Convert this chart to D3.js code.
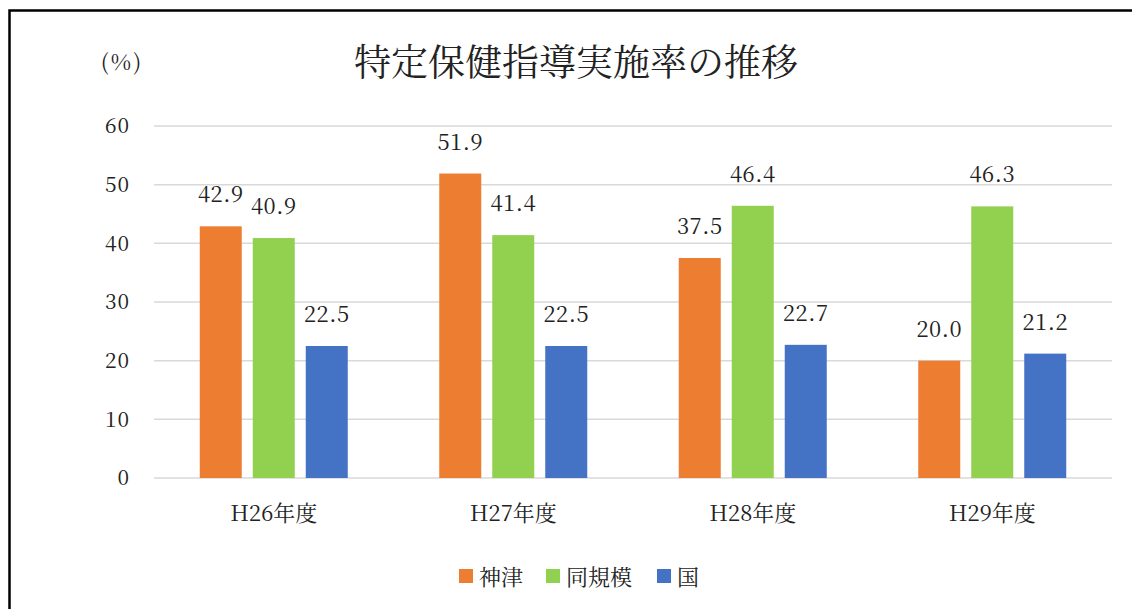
<!DOCTYPE html>
<html>
<head>
<meta charset="utf-8">
<script src="https://cdn.jsdelivr.net/npm/d3@7"></script>
</head>
<body style="margin:0; background:#fff;">
<div class="chart"></div>
<script>
const years = ['H26年度', 'H27年度', 'H28年度', 'H29年度'];
const seriesNames = ['神津', '同規模', '国'];
const kozu = [42.9, 51.9, 37.5, 20.0];
const doukibo = [40.9, 41.4, 46.4, 46.3];
const kuni = [22.5, 22.5, 22.7, 21.2];
const yTicks = [0, 10, 20, 30, 40, 50, 60];
const colors = ['#ED7D31', '#92D050', '#4472C4'];

const seriesValues = [kozu, doukibo, kuni];
const FONT = 'Noto Serif CJK JP';
const width = 1132, height = 609;
const margin = {top: 126, right: 20, bottom: 131, left: 154};
const plotW = 1112 - margin.left;
const plotH = 478 - margin.top;

const svg = d3.select('.chart')
    .append('svg')
    .attr('width', width)
    .attr('height', height);

// outer frame
svg.append('rect')
    .attr('x', 9.5).attr('y', 10.5)
    .attr('width', 1200).attr('height', 700)
    .attr('fill', 'none')
    .attr('stroke', '#000')
    .attr('stroke-width', 2.5);

const g = svg.append('g')
    .attr('transform', `translate(${margin.left},${margin.top})`);

const xScale = d3.scaleBand()
    .domain(years)
    .range([0, plotW]);

const xInner = d3.scaleBand()
    .domain(seriesNames)
    .range([0, 148])
    .paddingInner(11 / 53);

const yScale = d3.scaleLinear()
    .domain([0, 60])
    .range([plotH, 0]);

// gridlines
g.selectAll('.grid')
    .data(yTicks)
    .enter()
    .append('line')
    .attr('class', 'grid')
    .attr('x1', 0)
    .attr('x2', plotW)
    .attr('y1', d => yScale(d))
    .attr('y2', d => yScale(d))
    .attr('stroke', '#D9D9D9')
    .attr('stroke-width', 1.5);

const yAxis = d3.axisLeft(yScale)
    .tickValues(yTicks)
    .tickSize(0)
    .tickPadding(24);

g.append('g')
    .attr('class', 'axis y-axis')
    .call(yAxis)
    .call(a => a.select('.domain').remove())
    .selectAll('text')
    .attr('font-family', FONT)
    .style('font-family', FONT)
    .attr('font-size', 21)
    .attr('letter-spacing', 1)
    .attr('fill', '#222');

const xAxis = d3.axisBottom(xScale)
    .tickSize(0)
    .tickPadding(27);

g.append('g')
    .attr('class', 'axis x-axis')
    .attr('transform', `translate(0,${plotH})`)
    .call(xAxis)
    .call(a => a.select('.domain').remove())
    .selectAll('text')
    .attr('font-family', FONT)
    .style('font-family', FONT)
    .attr('font-size', 22)
    .attr('fill', '#222');

// bars
const groups = g.selectAll('.year')
    .data(years)
    .enter()
    .append('g')
    .attr('class', 'year')
    .attr('transform', d => `translate(${xScale(d) + (xScale.bandwidth() - 148) / 2},0)`);

groups.selectAll('rect')
    .data((d, i) => seriesNames.map((s, j) => ({s: s, v: seriesValues[j][i], c: colors[j]})))
    .enter()
    .append('rect')
    .attr('x', d => xInner(d.s))
    .attr('width', xInner.bandwidth())
    .attr('y', d => yScale(d.v))
    .attr('height', d => plotH - yScale(d.v))
    .attr('fill', d => d.c);

groups.selectAll('.lbl')
    .data((d, i) => seriesNames.map((s, j) => ({s: s, v: seriesValues[j][i]})))
    .enter()
    .append('text')
    .attr('class', 'lbl')
    .attr('x', d => xInner(d.s) + xInner.bandwidth() / 2)
    .attr('y', d => yScale(d.v) - 24)
    .attr('text-anchor', 'middle')
    .attr('font-family', FONT)
    .style('font-family', FONT)
    .attr('font-size', 22)
    .attr('letter-spacing', 0.5)
    .attr('fill', '#222')
    .text(d => d.v.toFixed(1));

// title and unit
svg.append('text')
    .attr('x', 576)
    .attr('y', 76)
    .attr('text-anchor', 'middle')
    .attr('font-family', FONT)
    .style('font-family', FONT)
    .attr('font-size', 37)
    .attr('fill', '#222')
    .text('特定保健指導実施率の推移');

svg.append('text')
    .attr('x', 122)
    .attr('y', 70)
    .attr('text-anchor', 'middle')
    .attr('font-family', FONT)
    .style('font-family', FONT)
    .attr('font-size', 22)
    .attr('letter-spacing', 2)
    .attr('fill', '#222')
    .text('(%)');

// legend
const legendX = [459, 546, 657];
const legend = svg.append('g');

legend.selectAll('rect')
    .data(seriesNames)
    .enter()
    .append('rect')
    .attr('x', (d, i) => legendX[i])
    .attr('y', 569)
    .attr('width', 14)
    .attr('height', 14)
    .attr('fill', (d, i) => colors[i]);

legend.selectAll('text')
    .data(seriesNames)
    .enter()
    .append('text')
    .attr('x', (d, i) => legendX[i] + 20)
    .attr('y', 585)
    .attr('font-family', FONT)
    .style('font-family', FONT)
    .attr('font-size', 22)
    .attr('fill', '#222')
    .text(d => d);
</script>
</body>
</html>
